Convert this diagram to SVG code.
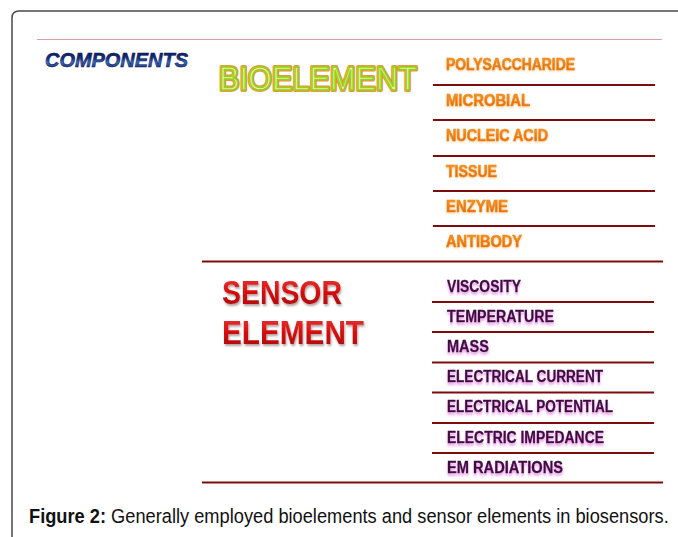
<svg xmlns="http://www.w3.org/2000/svg" width="678" height="537" viewBox="0 0 678 537">
<defs>
<linearGradient id="gBlue" x1="0" y1="0" x2="0" y2="1">
<stop offset="0" stop-color="#06104a"/>
<stop offset="0.45" stop-color="#14307e"/>
<stop offset="0.62" stop-color="#3a6cc0"/>
<stop offset="1" stop-color="#081450"/>
</linearGradient>
<linearGradient id="gOrange" x1="0" y1="0" x2="0" y2="1">
<stop offset="0" stop-color="#f89a28"/>
<stop offset="0.5" stop-color="#f07a08"/>
<stop offset="1" stop-color="#e06400"/>
</linearGradient>
<linearGradient id="gRed" x1="0" y1="0" x2="0" y2="1">
<stop offset="0" stop-color="#f03a3a"/>
<stop offset="0.5" stop-color="#d81010"/>
<stop offset="1" stop-color="#a00808"/>
</linearGradient>
<filter id="fPurple" x="-5%" y="-30%" width="110%" height="180%">
<feDropShadow dx="0" dy="2.5" stdDeviation="1" flood-color="#d040d0" flood-opacity="0.55"/>
</filter>
<filter id="fRed" x="-5%" y="-20%" width="115%" height="150%">
<feDropShadow dx="1" dy="2" stdDeviation="1.2" flood-color="#806060" flood-opacity="0.6"/>
</filter>
<filter id="fGlow" x="-5%" y="-30%" width="110%" height="170%">
<feDropShadow dx="0" dy="1" stdDeviation="0.8" flood-color="#f0b060" flood-opacity="0.6"/>
</filter>
</defs>
<style>
.frame{fill:none;stroke:#4a4a4a;stroke-width:1.5}
.thin{stroke:#dca0a0;stroke-width:1}
.sep{stroke:#7e0c0c;stroke-width:2.2}
.bio{font-family:"Liberation Sans",Arial,sans-serif;font-weight:bold;font-size:16px;fill:url(#gOrange);stroke:#f08a20;stroke-width:0.6;filter:url(#fGlow)}
.sen{font-family:"Liberation Sans",Arial,sans-serif;font-weight:bold;font-size:16px;fill:#3c0c3c;stroke:#3c0c3c;stroke-width:0.3;filter:url(#fPurple)}
.big{font-family:"Liberation Sans",Arial,sans-serif;font-weight:bold;font-size:34px;fill:url(#gRed);filter:url(#fRed)}
.cap{font-family:"Liberation Sans",Arial,sans-serif;font-size:19.5px;fill:#111}
</style>
<rect width="678" height="537" fill="#ffffff"/>
<path class="frame" d="M12,537 V18 Q12,11 19,11 H678"/>
<line class="thin" x1="37" y1="39.5" x2="662" y2="39.5"/>

<g id="components">
<text x="45" y="67" font-family="'Liberation Sans',Arial,sans-serif" font-weight="bold" font-style="italic" font-size="21" fill="url(#gBlue)" stroke="#0a1450" stroke-width="0.6" textLength="143" lengthAdjust="spacingAndGlyphs">COMPONENTS</text>
</g>

<g id="bioelement">
<text x="219" y="90" font-family="'Liberation Sans',Arial,sans-serif" font-size="33" fill="none" stroke="#e49a3a" stroke-width="4" stroke-linejoin="round" textLength="198" lengthAdjust="spacingAndGlyphs">BIOELEMENT</text>
<text x="219" y="90" font-family="'Liberation Sans',Arial,sans-serif" font-size="33" fill="#eaf8b0" stroke="#9ad018" stroke-width="1.6" textLength="198" lengthAdjust="spacingAndGlyphs">BIOELEMENT</text>
</g>

<g id="sensor-element">
<text class="big" x="222" y="304" textLength="120" lengthAdjust="spacingAndGlyphs">SENSOR</text>
<text class="big" x="222" y="344" textLength="142" lengthAdjust="spacingAndGlyphs">ELEMENT</text>
</g>

<g id="bio-items">
<g id="polysaccharide"><text class="bio" x="446" y="70" textLength="129" lengthAdjust="spacingAndGlyphs">POLYSACCHARIDE</text></g>
<g id="microbial"><text class="bio" x="446" y="106" textLength="84" lengthAdjust="spacingAndGlyphs">MICROBIAL</text></g>
<g id="nucleic-acid"><text class="bio" x="446" y="141" textLength="102" lengthAdjust="spacingAndGlyphs">NUCLEIC ACID</text></g>
<g id="tissue"><text class="bio" x="446" y="176.5" textLength="51" lengthAdjust="spacingAndGlyphs">TISSUE</text></g>
<g id="enzyme"><text class="bio" x="446" y="211.5" textLength="62" lengthAdjust="spacingAndGlyphs">ENZYME</text></g>
<g id="antibody"><text class="bio" x="446" y="246.5" textLength="76" lengthAdjust="spacingAndGlyphs">ANTIBODY</text></g>
</g>

<g id="sensor-items">
<g id="viscosity"><text class="sen" x="447" y="291.5" textLength="74" lengthAdjust="spacingAndGlyphs">VISCOSITY</text></g>
<g id="temperature"><text class="sen" x="447" y="322" textLength="107" lengthAdjust="spacingAndGlyphs">TEMPERATURE</text></g>
<g id="mass"><text class="sen" x="447" y="352" textLength="42" lengthAdjust="spacingAndGlyphs">MASS</text></g>
<g id="electrical-current"><text class="sen" x="447" y="382" textLength="156" lengthAdjust="spacingAndGlyphs">ELECTRICAL CURRENT</text></g>
<g id="electrical-potential"><text class="sen" x="447" y="412" textLength="166" lengthAdjust="spacingAndGlyphs">ELECTRICAL POTENTIAL</text></g>
<g id="electric-impedance"><text class="sen" x="447" y="442.5" textLength="157" lengthAdjust="spacingAndGlyphs">ELECTRIC IMPEDANCE</text></g>
<g id="em-radiations"><text class="sen" x="447" y="472.5" textLength="116" lengthAdjust="spacingAndGlyphs">EM RADIATIONS</text></g>
</g>

<g id="connectors">
<line class="sep" x1="433" y1="85" x2="655" y2="85"/>
<line class="sep" x1="433" y1="120" x2="655" y2="120"/>
<line class="sep" x1="433" y1="156" x2="655" y2="156"/>
<line class="sep" x1="433" y1="191" x2="655" y2="191"/>
<line class="sep" x1="433" y1="226" x2="655" y2="226"/>
<line class="sep" x1="202" y1="261.5" x2="663" y2="261.5"/>
<line class="sep" x1="432" y1="302" x2="654" y2="302"/>
<line class="sep" x1="432" y1="332" x2="654" y2="332"/>
<line class="sep" x1="432" y1="362.5" x2="654" y2="362.5"/>
<line class="sep" x1="432" y1="392.5" x2="654" y2="392.5"/>
<line class="sep" x1="432" y1="423" x2="654" y2="423"/>
<line class="sep" x1="432" y1="453" x2="654" y2="453"/>
<line class="sep" x1="202" y1="482.5" x2="663" y2="482.5"/>
</g>

<g id="caption">
<text class="cap" transform="translate(29,523) scale(0.88,1)" x="0" y="0" textLength="727" lengthAdjust="spacingAndGlyphs"><tspan font-weight="bold">Figure 2:</tspan> Generally employed bioelements and sensor elements in biosensors.</text>
</g>
</svg>
